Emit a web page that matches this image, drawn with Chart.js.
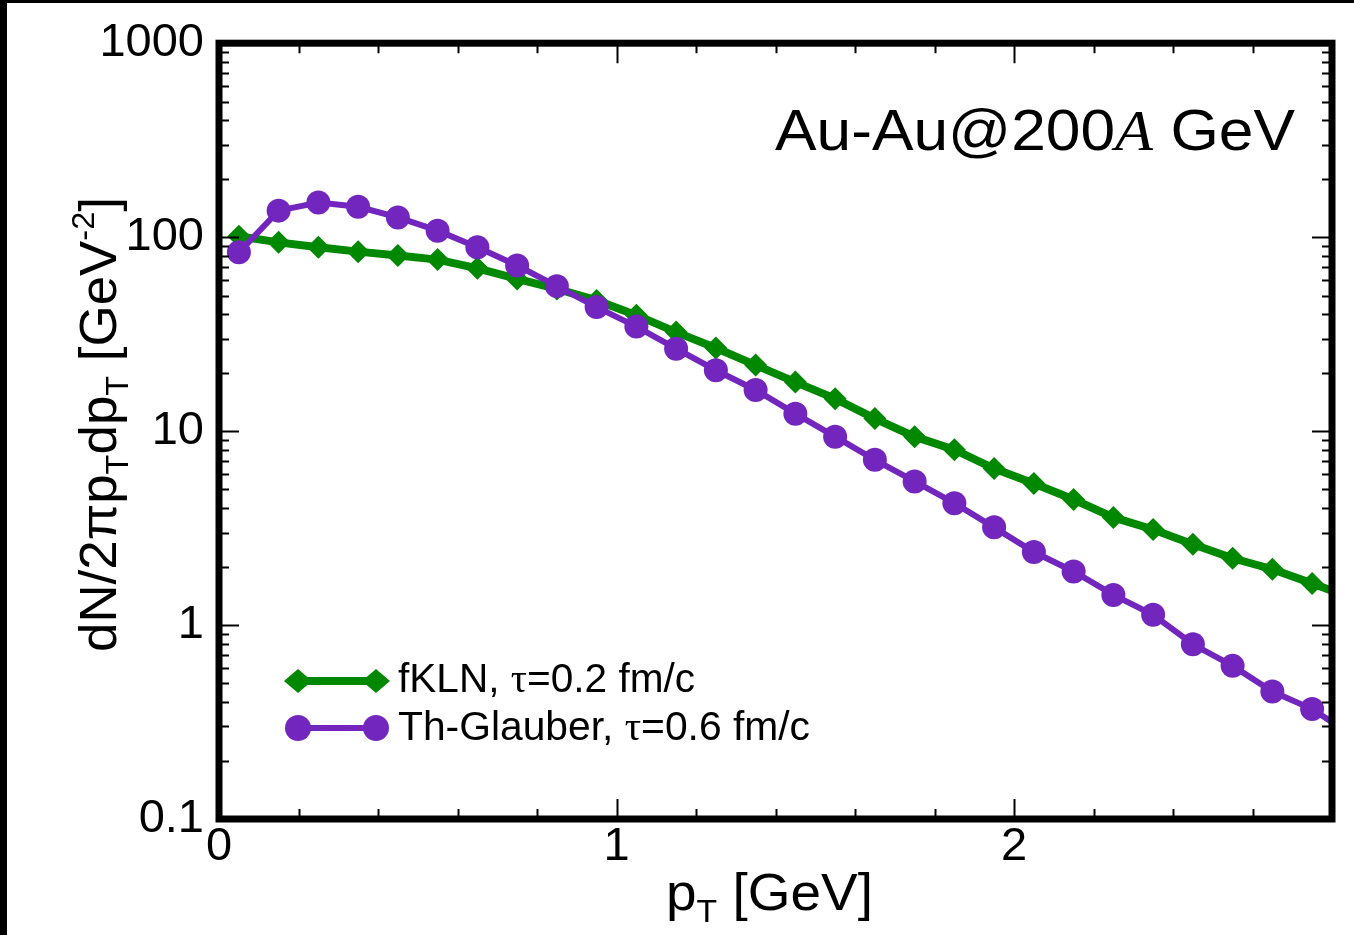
<!DOCTYPE html>
<html><head><meta charset="utf-8">
<script src="https://cdn.jsdelivr.net/npm/chart.js@4/dist/chart.umd.min.js"></script>
<style>html,body{margin:0;padding:0;background:#fff;overflow:hidden}</style>
</head><body><canvas id="c" width="1354" height="935"></canvas>
<script>
// ---- data ----
const pT = [0.05,0.15,0.25,0.35,0.45,0.55,0.65,0.75,0.85,0.95,1.05,1.15,1.25,1.35,1.45,1.55,1.65,1.75,1.85,1.95,2.05,2.15,2.25,2.35,2.45,2.55,2.65,2.75,2.85];
const fKLN = [101,94,88.7,84.2,80.4,76.6,69.1,60.9,54.1,47.2,39.6,32.4,26.8,21.9,17.9,14.7,11.6,9.36,8.02,6.41,5.37,4.44,3.59,3.11,2.61,2.21,1.94,1.64,1.38];
const thGlauber = [83.5,137,151,143.5,126.4,108,88.7,71.4,55.9,43.6,34.6,26.6,20.6,16.3,12.3,9.36,7.11,5.50,4.25,3.19,2.38,1.89,1.43,1.13,0.796,0.616,0.454,0.369,0.27];
const yTicks = [0.1,1,10,100,1000];
const xTicks = [0,1,2];
const seriesLabels = ['fKLN, \u03C4=0.2 fm/c', 'Th-Glauber, \u03C4=0.6 fm/c'];
const GREEN = '#008800', PURPLE = '#7326BE';
const SANS = 'Liberation Sans, Arial, sans-serif';
const SERIF = 'Liberation Serif, Times New Roman, serif';

function richWidth(ctx, parts){
  let w=0; for(const p of parts){ctx.font=p.font; w+=ctx.measureText(p.t).width;} return w;
}
function drawRich(ctx, parts, x, y, targetW){
  const w = richWidth(ctx, parts);
  ctx.save(); ctx.translate(x,y);
  if(targetW) ctx.scale(targetW/w,1);
  let cx=0; ctx.textBaseline='alphabetic'; ctx.textAlign='left'; ctx.fillStyle='#000';
  for(const p of parts){ctx.font=p.font; ctx.fillText(p.t,cx,p.dy||0); cx+=ctx.measureText(p.t).width;}
  ctx.restore();
}

const decor = {
  id:'decor',
  beforeDraw(chart){
    const ctx=chart.ctx;
    ctx.save(); ctx.fillStyle='#fff'; ctx.fillRect(0,0,chart.width,chart.height);
    ctx.fillStyle='#000'; ctx.fillRect(0,0,chart.width,3); ctx.fillRect(0,0,7,chart.height);
    ctx.restore();
  },
  afterDatasetsDraw(chart){
    const ctx=chart.ctx, a=chart.chartArea, xs=chart.scales.x, ys=chart.scales.y;
    ctx.save();
    ctx.strokeStyle='#000'; ctx.lineWidth=2; ctx.beginPath();
    for(let e=-1;e<3;e++){
      for(let k=1;k<=9;k++){
        const v=k*Math.pow(10,e); const py=Math.round(ys.getPixelForValue(v))+0.5;
        const len = k===1?20:10;
        ctx.moveTo(a.left,py); ctx.lineTo(a.left+len,py);
        ctx.moveTo(a.right,py); ctx.lineTo(a.right-len,py);
      }
    }
    for(let i=1;i<14;i++){
      const v=i*0.2; const px=Math.round(xs.getPixelForValue(v))+0.5;
      const len = (i%5===0)?20:10;
      ctx.moveTo(px,a.bottom); ctx.lineTo(px,a.bottom-len);
      ctx.moveTo(px,a.top); ctx.lineTo(px,a.top+len);
    }
    ctx.stroke();
    ctx.lineWidth=7; ctx.strokeRect(a.left,a.top,a.right-a.left,a.bottom-a.top);
    ctx.restore();

    // legend
    const rows=[{c:GREEN,lw:8,shape:'d',y:681,by:692,label:seriesLabels[0],w:297},{c:PURPLE,lw:6,shape:'o',y:728,by:740,label:seriesLabels[1],w:412}];
    for(const r of rows){
      ctx.save(); ctx.strokeStyle=r.c; ctx.fillStyle=r.c; ctx.lineWidth=r.lw;
      ctx.beginPath(); ctx.moveTo(298,r.y); ctx.lineTo(376,r.y); ctx.stroke();
      for(const mx of [298,376]){
        ctx.beginPath();
        if(r.shape==='d'){ctx.moveTo(mx-14,r.y);ctx.lineTo(mx,r.y-12);ctx.lineTo(mx+14,r.y);ctx.lineTo(mx,r.y+12);ctx.closePath();}
        else ctx.arc(mx,r.y,13,0,Math.PI*2);
        ctx.fill();
      }
      ctx.restore();
      const i=r.label.indexOf('\u03C4');
      drawRich(ctx,[{t:r.label.slice(0,i),font:'41px '+SANS},{t:'\u03C4',font:'41px '+SERIF},{t:r.label.slice(i+1),font:'41px '+SANS}],398,r.by,r.w);
    }
    // annotation
    drawRich(ctx,[{t:'Au-Au@200',font:'58px '+SANS},{t:'A',font:'italic 58px '+SERIF},{t:' GeV',font:'58px '+SANS}],775,150,520);
    // x title
    drawRich(ctx,[{t:'p',font:'52px '+SANS},{t:'T',font:'32px '+SANS,dy:12},{t:' [GeV]',font:'52px '+SANS}],666,910,207);
    // y title
    ctx.save(); ctx.translate(116,652); ctx.rotate(-Math.PI/2);
    drawRich(ctx,[{t:'dN/2\u03C0p',font:'52px '+SANS},{t:'T',font:'32px '+SANS,dy:12},{t:'dp',font:'52px '+SANS},{t:'T',font:'32px '+SANS,dy:12},{t:' [GeV',font:'52px '+SANS},{t:'-2',font:'32px '+SANS,dy:-22},{t:']',font:'52px '+SANS}],0,0,455);
    ctx.restore();
  }
};

const tickFont={family:SANS,size:47};
new Chart(document.getElementById('c'),{
  type:'line',
  data:{datasets:[
    {label:seriesLabels[0],data:pT.map((x,i)=>({x,y:fKLN[i]})),borderColor:GREEN,backgroundColor:GREEN,borderWidth:8,pointStyle:'rectRot',pointRadius:11.5,pointBorderWidth:0,tension:0,clip:0,order:2},
    {label:seriesLabels[1],data:pT.map((x,i)=>({x,y:thGlauber[i]})),borderColor:PURPLE,backgroundColor:PURPLE,borderWidth:6,pointStyle:'circle',pointRadius:12,pointBorderWidth:0,tension:0,clip:0,order:1}
  ]},
  options:{
    responsive:false,animation:false,devicePixelRatio:1,
    layout:{padding:{top:40,right:22,left:0,bottom:0}},
    plugins:{legend:{display:false},tooltip:{enabled:false}},
    scales:{
      x:{type:'linear',min:0,max:2.8,
        afterBuildTicks:s=>{s.ticks=xTicks.map(v=>({value:v}));},
        afterFit:s=>{s.height=116;},
        ticks:{font:tickFont,color:'#000',padding:0,maxRotation:0,autoSkip:false,callback:v=>String(v)},
        grid:{display:false,drawTicks:false},border:{display:false}},
      y:{type:'logarithmic',min:0.1,max:1000,
        afterBuildTicks:s=>{s.ticks=yTicks.map(v=>({value:v}));},
        afterFit:s=>{s.width=219;},
        ticks:{font:tickFont,color:'#000',padding:15,autoSkip:false,callback:v=>String(v)},
        grid:{display:false,drawTicks:false},border:{display:false}}
    }
  },
  plugins:[decor]
});
</script></body></html>
